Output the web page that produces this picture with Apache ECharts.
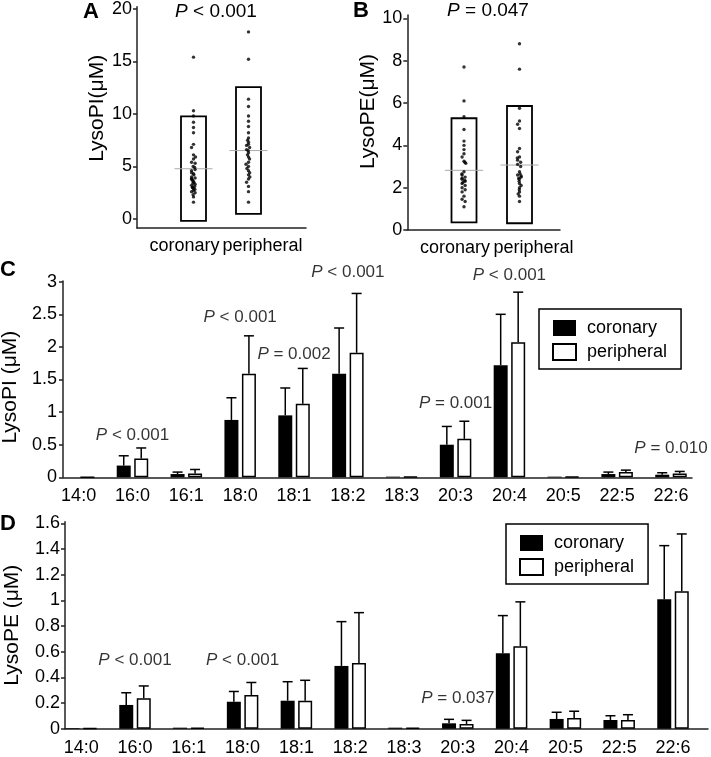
<!DOCTYPE html>
<html><head><meta charset="utf-8">
<script src="https://cdn.jsdelivr.net/npm/echarts@6/dist/echarts.min.js"></script>
<style>html,body{margin:0;padding:0;background:#fff}#c{width:711px;height:757px}</style>
</head><body><div id="c"></div>
<script>
const FF = "'Liberation Sans', Arial, Helvetica, sans-serif";
const groups = ['coronary', 'peripheral'];

// ---- Panel A : LysoPI individual values ----
const aCoronary = [15.4, 10.3, 9.8, 9.2, 8.7, 8.2, 7.1, 6.8, 6.1, 5.9, 5.7, 5.4, 5.3, 5.0, 4.9, 4.7, 4.6, 4.4, 4.3, 4.2, 4.0, 3.9, 3.8, 3.8, 3.7, 3.6, 3.5, 3.4, 3.3, 3.2, 3.1, 3.0, 3.0, 2.9, 2.8, 2.7, 2.6, 2.5, 2.3, 2.1, 1.6];
const aPeripheral = [17.8, 15.2, 11.4, 10.7, 9.8, 9.3, 8.8, 8.2, 7.7, 7.5, 7.3, 7.1, 7.0, 6.8, 6.6, 6.5, 6.3, 6.1, 5.9, 5.7, 5.4, 5.2, 5.0, 4.8, 4.6, 4.4, 4.2, 4.0, 3.8, 3.5, 3.1, 2.6, 1.6];
const aBoxLow = [-0.19, 0.48];
const aBoxHigh = [9.76, 12.54];
const aMean = [4.78, 6.51];
const aTicks = [0, 5, 10, 15, 20];

// ---- Panel B : LysoPE individual values ----
const bCoronary = [7.7, 6.1, 5.35, 4.75, 4.2, 4.0, 3.8, 3.6, 3.45, 3.25, 3.2, 3.15, 2.75, 2.65, 2.6, 2.5, 2.45, 2.4, 2.35, 2.3, 2.25, 2.2, 2.1, 2.0, 1.9, 1.8, 1.6, 1.45, 1.35, 1.1];
const bPeripheral = [8.8, 7.6, 5.75, 5.15, 5.0, 4.8, 3.85, 3.7, 3.45, 3.4, 3.3, 3.2, 3.1, 3.0, 2.75, 2.65, 2.6, 2.55, 2.5, 2.45, 2.4, 2.3, 2.2, 2.1, 2.0, 1.9, 1.8, 1.7, 1.6, 1.35];
const bBoxLow = [0.36, 0.32];
const bBoxHigh = [5.28, 5.86];
const bMean = [2.82, 3.07];
const bTicks = [0, 2, 4, 6, 8, 10];

// ---- Panels C / D : acyl species ----
const species = ['14:0', '16:0', '16:1', '18:0', '18:1', '18:2', '18:3', '20:3', '20:4', '20:5', '22:5', '22:6'];

const cCorMean = [0, 0.18, 0.05, 0.88, 0.95, 1.59, 0.01, 0.50, 1.72, 0.01, 0.05, 0.04];
const cCorSD   = [0, 0.15, 0.03, 0.34, 0.42, 0.70, 0, 0.28, 0.78, 0, 0.03, 0.03];
const cPerMean = [0, 0.29, 0.06, 1.59, 1.13, 1.91, 0.01, 0.59, 2.07, 0.01, 0.08, 0.06];
const cPerSD   = [0, 0.16, 0.06, 0.58, 0.54, 0.91, 0, 0.27, 0.77, 0, 0.03, 0.03];
const cPCats = ['16:0', '18:0', '18:1', '18:2', '20:3', '20:4', '22:6'];
const cPText = ['< 0.001', '< 0.001', '= 0.002', '< 0.001', '= 0.001', '< 0.001', '= 0.010'];
const cPY    = [0.64, 2.46, 1.89, 3.15, 1.14, 3.10, 0.44];
const cTicks = [0, 0.5, 1, 1.5, 2, 2.5, 3];

const dCorMean = [0.005, 0.185, 0.008, 0.21, 0.218, 0.489, 0.008, 0.042, 0.588, 0.076, 0.068, 1.008];
const dCorSD   = [0, 0.095, 0, 0.08, 0.148, 0.345, 0, 0.031, 0.293, 0.052, 0.033, 0.418];
const dPerMean = [0.005, 0.237, 0.008, 0.263, 0.218, 0.512, 0.008, 0.037, 0.642, 0.083, 0.068, 1.071];
const dPerSD   = [0, 0.096, 0, 0.097, 0.159, 0.392, 0, 0.028, 0.346, 0.053, 0.041, 0.446];
const dPCats = ['16:0', '18:0', '20:3'];
const dPText = ['< 0.001', '< 0.001', '= 0.037'];
const dPY    = [0.535, 0.535, 0.237];
const dTicks = [0, 0.2, 0.4, 0.6, 0.8, 1, 1.2, 1.4, 1.6];

// ---------------------------------------------------------------
const AX = { color: '#222', width: 1.5 };
const BAR_W = 14, BAR_OFF = 8.75;

function axisX(gi) {
  return { gridIndex: gi, type: 'value', min: 0, max: 1,
    axisLine: { show: true, onZero: false, lineStyle: AX },
    axisTick: { show: false }, axisLabel: { show: false }, splitLine: { show: false } };
}
function axisY(gi, min, max, ticks, name, gap, namePad, margin) {
  return { gridIndex: gi, type: 'value', min: min, max: max,
    name: name, nameLocation: 'middle', nameGap: gap,
    nameTextStyle: { fontSize: 21, color: '#000', fontFamily: FF, padding: namePad },
    axisLine: { show: true, onZero: false, lineStyle: AX },
    axisTick: { show: true, length: 4, customValues: ticks, lineStyle: AX },
    axisLabel: { show: true, customValues: ticks, margin: margin, fontSize: 18, color: '#000', fontFamily: FF },
    splitLine: { show: false } };
}
function hiddenY(gi, min, max) {
  return { gridIndex: gi, type: 'value', min: min, max: max, show: false, splitLine: { show: false } };
}
function groupX(gi) {
  return { gridIndex: gi, type: 'category', data: groups,
    jitter: 5, jitterOverlap: false, jitterMargin: 0.3,
    axisLine: { show: false, onZero: false }, axisTick: { show: false },
    axisLabel: { margin: 9, fontSize: 18, color: '#000', fontFamily: FF, interval: 0,
      formatter: v => v === 'coronary' ? '{c|coronary}' : '{p|peripheral}',
      rich: { c: { padding: [0, 18, 0, 0], fontSize: 18, fontFamily: FF, color: '#000' },
              p: { padding: [0, 0, 0, 28], fontSize: 18, fontFamily: FF, color: '#000' } } } };
}
function speciesX(gi) {
  return { gridIndex: gi, type: 'category', data: species,
    axisLine: { show: false, onZero: false }, axisTick: { show: false },
    axisLabel: { margin: 10, fontSize: 18, color: '#000', fontFamily: FF, interval: 0 } };
}

function boxRender(params, api) {
  const x = api.value(0);
  const pLo = api.coord([x, api.value(1)]);
  const pHi = api.coord([x, api.value(2)]);
  const pM = api.coord([x, api.value(3)]);
  return { type: 'group', children: [
    { type: 'rect', shape: { x: pLo[0] - 12.5, y: pHi[1], width: 25, height: pLo[1] - pHi[1] },
      style: { fill: 'none', stroke: '#000', lineWidth: 1.8 } },
    { type: 'line', shape: { x1: pM[0] - 19, y1: pM[1], x2: pM[0] + 19, y2: pM[1] },
      style: { stroke: '#aaa', lineWidth: 1 } }
  ] };
}
function boxSeries(gi, lo, hi, mean) {
  return { type: 'custom', xAxisIndex: gi, yAxisIndex: gi, z: 2, renderItem: boxRender,
    encode: { x: 0, y: [1, 2, 3] },
    data: groups.map((g, i) => [i, lo[i], hi[i], mean[i]]) };
}
function dotSeries(gi, vals, idx) {
  return { type: 'scatter', xAxisIndex: gi, yAxisIndex: gi, z: 3, symbol: 'circle', symbolSize: 3.4,
    itemStyle: { color: '#000' }, data: vals.map(v => [groups[idx], v]) };
}
function errSeries(gi, mean, sd, side) {
  return { type: 'custom', xAxisIndex: gi, yAxisIndex: gi, z: 1,
    encode: { x: 0, y: [1, 2] },
    data: mean.map((m, i) => [i, m, sd[i]]),
    renderItem: function (params, api) {
      const i = api.value(0), m = api.value(1), s = api.value(2);
      if (!s) return null;
      const b = api.coord([i, m]), t = api.coord([i, m + s]);
      const x = b[0] + side * BAR_OFF;
      return { type: 'group', children: [
        { type: 'line', shape: { x1: x, y1: b[1], x2: x, y2: t[1] }, style: { stroke: '#000', lineWidth: 1.5 } },
        { type: 'line', shape: { x1: x - 5, y1: t[1], x2: x + 5, y2: t[1] }, style: { stroke: '#000', lineWidth: 1.5 } }
      ] };
    } };
}
function barSeries(gi, name, mean, filled) {
  return { type: 'bar', name: name, xAxisIndex: gi, yAxisIndex: gi, z: 2,
    barWidth: BAR_W, barGap: '25%', data: mean,
    itemStyle: filled ? { color: '#000' } : { color: '#fff', borderColor: '#000', borderWidth: 1.5 } };
}
function pSeries(gi, cats, texts, ys) {
  return { type: 'scatter', xAxisIndex: gi, yAxisIndex: gi, clip: false, z: 4,
    symbolSize: 1, itemStyle: { color: 'rgba(0,0,0,0)' },
    data: cats.map((c, i) => [c, ys[i]]),
    label: { show: true, position: 'inside', fontSize: 17, color: '#000', fontFamily: FF,
      formatter: p => '{i|P} ' + texts[p.dataIndex],
      rich: { i: { fontStyle: 'italic', fontSize: 17, color: '#000', fontFamily: FF } } } };
}
function legendAt(left, top) {
  return { data: groups, orient: 'vertical', left: left, top: top, icon: 'rect',
    itemWidth: 23, itemHeight: 16, itemGap: 6, padding: [10, 14, 8, 13],
    borderColor: '#000', borderWidth: 1.5, selectedMode: false,
    textStyle: { fontSize: 18, color: '#000', fontFamily: FF, padding: [0, 0, 0, 6] } };
}
function letter(t, left, top) {
  return { text: t, left: left, top: top, padding: 0,
    textStyle: { fontSize: 22, fontWeight: 'bold', color: '#000', fontFamily: FF } };
}
function heading(t, left, top) {
  return { text: '{i|P} ' + t, left: left, top: top, padding: 0, textAlign: 'center',
    textStyle: { fontSize: 19, fontWeight: 'normal', color: '#000', fontFamily: FF,
      rich: { i: { fontStyle: 'italic', fontSize: 19, color: '#000', fontFamily: FF } } } };
}

const chart = echarts.init(document.getElementById('c'), null, { renderer: 'canvas' });
chart.setOption({
  animation: false,
  textStyle: { fontFamily: FF, color: '#000' },
  title: [letter('A', 83, 1), letter('B', 353, 0), letter('C', 0, 259), letter('D', 0, 513),
          heading('< 0.001', 216, 2), heading('= 0.047', 488, 1)],
  legend: [legendAt(539, 309), legendAt(506, 524)],
  grid: [
    { left: 137, top: 6.7, width: 169, height: 221.3, outerBoundsMode: 'none' },
    { left: 166, top: 6.7, width: 110, height: 221.3, outerBoundsMode: 'none' },
    { left: 407.3, top: 15, width: 152.7, height: 215, outerBoundsMode: 'none' },
    { left: 436.25, top: 15, width: 111, height: 215, outerBoundsMode: 'none' },
    { left: 63, top: 281, width: 629, height: 196.3, outerBoundsMode: 'none' },
    { left: 51.7, top: 281, width: 646.2, height: 196.3, outerBoundsMode: 'none' },
    { left: 65, top: 521.7, width: 643, height: 207, outerBoundsMode: 'none' },
    { left: 54.3, top: 521.7, width: 645.6, height: 207, outerBoundsMode: 'none' }
  ],
  xAxis: [axisX(0), groupX(1), axisX(2), groupX(3), axisX(4), speciesX(5), axisX(6), speciesX(7)],
  yAxis: [
    axisY(0, -0.86, 20.2, aTicks, 'LysoPI(μM)', 18, [0, 0, 0, 18], 5),
    hiddenY(1, -0.86, 20.2),
    axisY(2, 0, 10.16, bTicks, 'LysoPE(μM)', 18, [0, 0, 0, 22], 5),
    hiddenY(3, 0, 10.16),
    axisY(4, 0, 3.011, cTicks, 'LysoPI (μM)', 40, [0, 16, 0, 0], 6),
    hiddenY(5, 0, 3.011),
    axisY(6, 0, 1.6125, dTicks, 'LysoPE (μM)', 42, [0, 0, 0, 0], 5),
    hiddenY(7, 0, 1.6125)
  ],
  series: [
    boxSeries(1, aBoxLow, aBoxHigh, aMean),
    dotSeries(1, aCoronary, 0), dotSeries(1, aPeripheral, 1),
    boxSeries(3, bBoxLow, bBoxHigh, bMean),
    dotSeries(3, bCoronary, 0), dotSeries(3, bPeripheral, 1),
    barSeries(5, 'coronary', cCorMean, true), barSeries(5, 'peripheral', cPerMean, false),
    errSeries(5, cCorMean, cCorSD, -1), errSeries(5, cPerMean, cPerSD, 1),
    pSeries(5, cPCats, cPText, cPY),
    barSeries(7, 'coronary', dCorMean, true), barSeries(7, 'peripheral', dPerMean, false),
    errSeries(7, dCorMean, dCorSD, -1), errSeries(7, dPerMean, dPerSD, 1),
    pSeries(7, dPCats, dPText, dPY)
  ]
});
</script>
</body></html>
